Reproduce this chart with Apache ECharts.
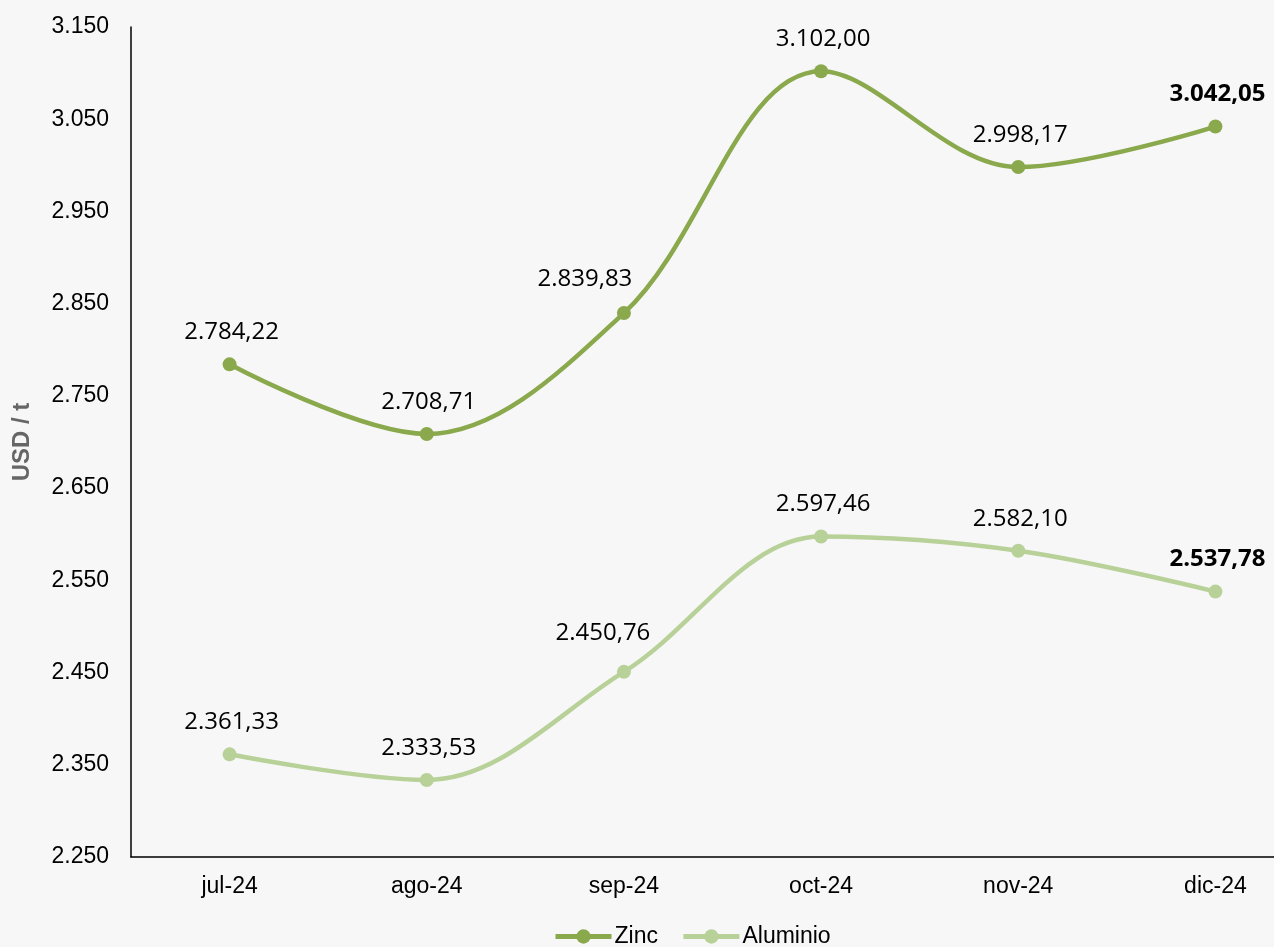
<!DOCTYPE html>
<html><head><meta charset="utf-8">
<script src="https://cdn.jsdelivr.net/npm/echarts@6/dist/echarts.min.js"></script>
<style>html,body{margin:0;padding:0;background:#f7f7f7;}#c{width:1274px;height:947px;}</style>
</head><body><div id="c"></div>
<script>
const categories = ['jul-24','ago-24','sep-24','oct-24','nov-24','dic-24'];
const zinc = [2784.22, 2708.71, 2839.83, 3102.00, 2998.17, 3042.05];
const aluminio = [2361.33, 2333.53, 2450.76, 2597.46, 2582.10, 2537.78];
const yMin = 2250, yMax = 3150, yStep = 100;

function fmt(v, dec){
  const s = v.toFixed(dec);
  const parts = s.split('.');
  const intp = parts[0].replace(/\B(?=(\d{3})+(?!\d))/g, '.');
  return parts.length > 1 ? intp + ',' + parts[1] : intp;
}
// label nudges (styling only)
const zincLabelOffsets = {2:[-39,-2]};
const aluLabelOffsets = {2:[-21,-7]};
function mkData(arr, offsets){
  return arr.map((v,i)=>{
    const l = {offset: offsets[i] || [2,0]};
    if (i===arr.length-1) l.fontWeight = 'bold';
    return {value:v, label:l};
  });
}
const chart = echarts.init(document.getElementById('c'));
const lbl = {show:true, position:'top', distance:13, fontFamily:'Open Sans', fontSize:24, color:'#000', formatter:p=>fmt(p.value,2)};
chart.setOption({
  backgroundColor:'#f7f7f7',
  animation:false,
  grid:{left:131, width:1183, top:27, bottom:90, outerBoundsMode:'none', containLabel:false},
  legend:{top:925, left:553, padding:0, itemWidth:56, itemHeight:18, itemGap:23,
    lineStyle:{width:5},
    textStyle:{fontFamily:'Liberation Sans', fontSize:23, color:'#000', padding:[0,0,0,-2]},
    data:['Zinc','Aluminio']},
  xAxis:{type:'category', data:categories, boundaryGap:true,
    axisLine:{lineStyle:{color:'#000', width:1.5}}, axisTick:{show:false},
    axisLabel:{fontFamily:'Liberation Sans', fontSize:23, color:'#000', margin:18}},
  yAxis:{type:'value', min:yMin, max:yMax, interval:yStep,
    name:'USD / t', nameLocation:'middle', nameGap:97, nameRotate:90,
    nameTextStyle:{fontFamily:'Liberation Sans', fontSize:24, fontWeight:'bold', color:'#666'},
    axisLine:{show:true, lineStyle:{color:'#000', width:1.5}}, axisTick:{show:false},
    splitLine:{show:false},
    axisLabel:{fontFamily:'Liberation Sans', fontSize:23, color:'#000', margin:22, formatter:v=>fmt(v,0)}},
  series:[
    {name:'Zinc', type:'line', data:mkData(zinc, zincLabelOffsets), smooth:0.35, symbol:'circle', symbolSize:14,
      color:'#8aa84c', lineStyle:{width:4.5, color:'#8aa84c'}, itemStyle:{color:'#8aa84c'},
      label:lbl},
    {name:'Aluminio', type:'line', data:mkData(aluminio, aluLabelOffsets), smooth:0.35, symbol:'circle', symbolSize:14,
      color:'#b8d198', lineStyle:{width:4.5, color:'#b8d198'}, itemStyle:{color:'#b8d198'},
      label:lbl}
  ]
});
</script></body></html>
